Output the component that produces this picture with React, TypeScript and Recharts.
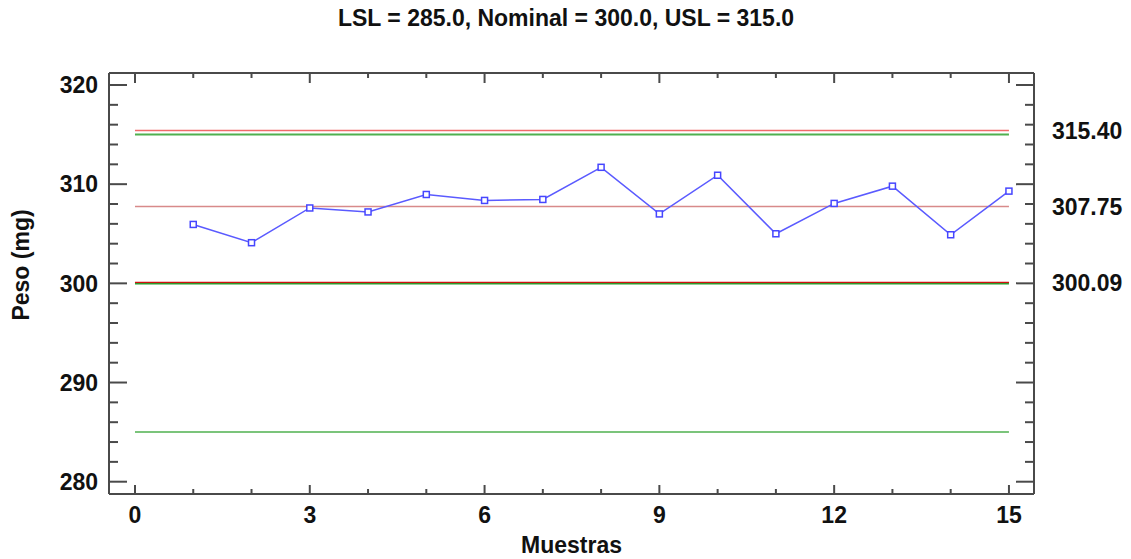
import { LineChart, Line, XAxis, YAxis, ReferenceLine } from "recharts";

// muestras y peso medido (mg)
const muestras = [1, 2, 3, 4, 5, 6, 7, 8, 9, 10, 11, 12, 13, 14, 15];
const peso = [305.94, 304.1, 307.6, 307.2, 308.96, 308.36, 308.46, 311.7, 307.0, 310.9, 305.0, 308.06, 309.8, 304.9, 309.3];

// limites de especificacion y de control
const specLimits = { lsl: 285.0, nominal: 300.0, usl: 315.0 };
const controlLimits = [315.4, 307.75, 300.09];

const xTicks = [0, 1, 2, 3, 4, 5, 6, 7, 8, 9, 10, 11, 12, 13, 14, 15];
const yTicks = [280, 282, 284, 286, 288, 290, 292, 294, 296, 298, 300, 302, 304, 306, 308, 310, 312, 314, 316, 318, 320];

const data = muestras.map((m, i) => ({ muestra: m, peso: peso[i] }));

const FONT = "'Liberation Sans', Arial, sans-serif";
const FS = 23;
const AXIS = "#4a4a4a";
const TXT = "#111";

function BottomTick({ x, y, payload }: any) {
  const major = payload.value % 3 === 0;
  return (
    <g>
      <line x1={x} y1={y} x2={x} y2={y - (major ? 9 : 5)} stroke={AXIS} strokeWidth={2} />
      {major && (
        <text x={x} y={y + 29} textAnchor="middle" fontFamily={FONT} fontWeight="bold" fontSize={FS} fill={TXT}>
          {payload.value}
        </text>
      )}
    </g>
  );
}

function TopTick({ x, y, payload }: any) {
  const major = payload.value % 3 === 0;
  return <line x1={x} y1={y} x2={x} y2={y + (major ? 10 : 5)} stroke={AXIS} strokeWidth={2} />;
}

function LeftTick({ x, y, payload }: any) {
  const major = payload.value % 10 === 0;
  return (
    <g>
      <line x1={x} y1={y} x2={x + (major ? 18 : 9)} y2={y} stroke={AXIS} strokeWidth={2} />
      {major && (
        <text x={x - 11} y={y} dy="0.36em" textAnchor="end" fontFamily={FONT} fontWeight="bold" fontSize={FS} fill={TXT}>
          {payload.value}
        </text>
      )}
    </g>
  );
}

function RightTick({ x, y, payload }: any) {
  const v = payload.value;
  if (controlLimits.includes(v)) {
    return (
      <text x={x + 18} y={y} dy="0.36em" textAnchor="start" fontFamily={FONT} fontWeight="bold" fontSize={FS} fill={TXT}>
        {v.toFixed(2)}
      </text>
    );
  }
  const major = v % 10 === 0;
  return <line x1={x} y1={y} x2={x - (major ? 18 : 9)} y2={y} stroke={AXIS} strokeWidth={2} />;
}

function Marker({ cx, cy }: any) {
  return <rect x={cx - 3} y={cy - 3} width={6} height={6} fill="#fff" stroke="#4646ff" strokeWidth={1.5} />;
}

function hline(y: number, color: string, width: number) {
  return (
    <ReferenceLine
      key={`${y}-${color}`}
      segment={[{ x: 0, y }, { x: 15, y }]}
      stroke={color}
      strokeWidth={width}
      ifOverflow="extendDomain"
    />
  );
}

export default function App() {
  return (
    <div style={{ position: "absolute", left: 0, top: 0, width: 1131, height: 559, background: "#fff" }}>
      <LineChart width={1131} height={559} data={data} margin={{ top: 43, right: 0, bottom: 0, left: 0 }}>
        <XAxis
          dataKey="muestra"
          type="number"
          domain={[-0.446, 15.43]}
          allowDataOverflow
          ticks={xTicks}
          interval={0}
          height={65}
          tickSize={0}
          tickMargin={0}
          tickLine={false}
          axisLine={{ stroke: AXIS, strokeWidth: 2 }}
          tick={<BottomTick />}
          label={{ value: "Muestras", position: "insideBottom", offset: 6, fontFamily: FONT, fontWeight: "bold", fontSize: FS, fill: TXT }}
        />
        <XAxis
          xAxisId="top"
          orientation="top"
          dataKey="muestra"
          type="number"
          domain={[-0.446, 15.43]}
          allowDataOverflow
          ticks={xTicks}
          interval={0}
          height={30}
          tickSize={0}
          tickMargin={0}
          tickLine={false}
          axisLine={{ stroke: AXIS, strokeWidth: 2 }}
          tick={<TopTick />}
        />
        <YAxis
          type="number"
          domain={[278.76, 321.21]}
          allowDataOverflow
          ticks={yTicks}
          interval={0}
          width={109}
          tickSize={0}
          tickMargin={0}
          tickLine={false}
          axisLine={{ stroke: AXIS, strokeWidth: 2 }}
          tick={<LeftTick />}
        />
        <YAxis
          yAxisId="right"
          orientation="right"
          type="number"
          domain={[278.76, 321.21]}
          allowDataOverflow
          ticks={[...yTicks, ...controlLimits]}
          interval={0}
          width={97}
          tickSize={0}
          tickMargin={0}
          tickLine={false}
          axisLine={{ stroke: AXIS, strokeWidth: 2 }}
          tick={<RightTick />}
        />
        {hline(specLimits.usl, "#4fb04f", 2)}
        {hline(controlLimits[0], "#f06a6a", 1.5)}
        {hline(controlLimits[1], "#d88a8a", 1.5)}
        {hline(specLimits.nominal, "#2e9a2e", 2.5)}
        {hline(controlLimits[2], "#d01010", 1.2)}
        {hline(specLimits.lsl, "#4fb04f", 1.5)}
        <Line
          dataKey="peso"
          stroke="#5a5aff"
          strokeWidth={1.5}
          dot={<Marker />}
          isAnimationActive={false}
        />
        <text x={566} y={26} textAnchor="middle" fontFamily={FONT} fontWeight="bold" fontSize={FS} fill={TXT}>
          LSL = 285.0, Nominal = 300.0, USL = 315.0
        </text>
        <text
          x={29}
          y={265}
          textAnchor="middle"
          transform="rotate(-90 29 265)"
          fontFamily={FONT}
          fontWeight="bold"
          fontSize={FS}
          fill={TXT}
        >
          Peso (mg)
        </text>
      </LineChart>
    </div>
  );
}
